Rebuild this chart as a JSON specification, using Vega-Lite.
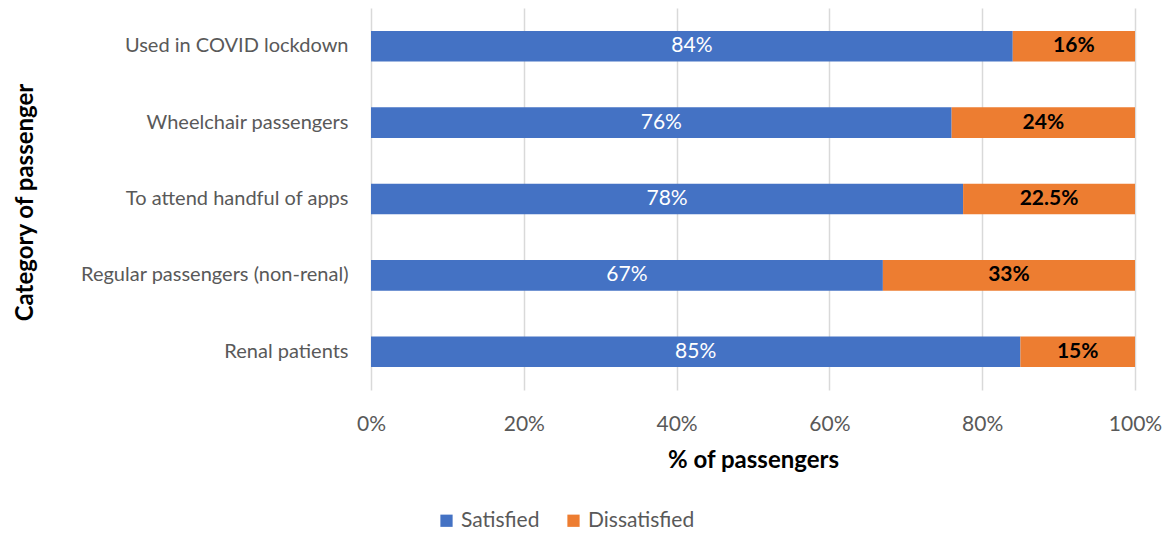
{
  "$schema": "https://vega.github.io/schema/vega-lite/v6.json",
  "width": 764,
  "height": 382,
  "autosize": "none",
  "padding": {"left": 371, "top": 8, "right": 38, "bottom": 144},
  "background": "white",
  "config": {
    "font": "Lato",
    "view": {"stroke": null}
  },
  "data": {
    "values": [
      {"category": "Used in COVID lockdown", "status": "Satisfied", "value": 0.84, "label": "84%"},
      {"category": "Used in COVID lockdown", "status": "Dissatisfied", "value": 0.16, "label": "16%"},
      {"category": "Wheelchair passengers", "status": "Satisfied", "value": 0.76, "label": "76%"},
      {"category": "Wheelchair passengers", "status": "Dissatisfied", "value": 0.24, "label": "24%"},
      {"category": "To attend handful of apps", "status": "Satisfied", "value": 0.775, "label": "78%"},
      {"category": "To attend handful of apps", "status": "Dissatisfied", "value": 0.225, "label": "22.5%"},
      {"category": "Regular passengers (non-renal)", "status": "Satisfied", "value": 0.67, "label": "67%"},
      {"category": "Regular passengers (non-renal)", "status": "Dissatisfied", "value": 0.33, "label": "33%"},
      {"category": "Renal patients", "status": "Satisfied", "value": 0.85, "label": "85%"},
      {"category": "Renal patients", "status": "Dissatisfied", "value": 0.15, "label": "15%"}
    ]
  },
  "transform": [
    {"stack": "value", "groupby": ["category"], "sort": [{"field": "status", "order": "descending"}], "as": ["v0", "v1"]}
  ],
  "encoding": {
    "y": {
      "field": "category",
      "type": "nominal",
      "sort": ["Used in COVID lockdown", "Wheelchair passengers", "To attend handful of apps", "Regular passengers (non-renal)", "Renal patients"],
      "scale": {"paddingInner": 0.6, "paddingOuter": 0.3},
      "axis": {
        "title": "Category of passenger",
        "titleFontSize": 24,
        "titleFontWeight": "bold",
        "titleColor": "#000000",
        "titleX": -346,
        "titleY": 194,
        "titleAngle": -90,
        "titleAlign": "center",
        "titleBaseline": "middle",
        "labelFontSize": 20,
        "labelLimit": 400,
        "labelColor": "#595959",
        "labelPadding": 23,
        "ticks": false,
        "domain": false,
        "grid": false
      }
    }
  },
  "layer": [
    {
      "mark": {"type": "bar"},
      "encoding": {
        "x": {
          "field": "v0",
          "type": "quantitative",
          "scale": {"domain": [0, 1], "nice": false},
          "axis": {
            "title": "% of passengers",
            "titleFontSize": 24,
            "titleFontWeight": "bold",
            "titleColor": "#000000",
            "titlePadding": 14,
            "format": ".0%",
            "values": [0, 0.2, 0.4, 0.6, 0.8, 1],
            "labelFontSize": 21,
            "labelColor": "#595959",
            "labelPadding": 23,
            "labelFlush": false,
            "ticks": false,
            "domain": false,
            "grid": true,
            "gridColor": "#d9d9d9",
            "gridWidth": 1.5
          }
        },
        "x2": {"field": "v1"},
        "color": {
          "field": "status",
          "type": "nominal",
          "scale": {"domain": ["Satisfied", "Dissatisfied"], "range": ["#4472C4", "#ED7D31"]},
          "legend": {
            "title": null,
            "orient": "none",
            "direction": "horizontal",
            "legendX": 65,
            "legendY": 502,
            "symbolType": "square",
            "symbolSize": 150,
            "symbolStrokeWidth": 0,
            "labelFontSize": 21,
            "labelColor": "#595959",
            "columnPadding": 23,
            "labelOffset": 4
          }
        }
      }
    },
    {
      "transform": [{"filter": "datum.status === 'Satisfied'"}],
      "mark": {
        "type": "text",
        "fontSize": 21,
        "baseline": "middle",
        "align": "center",
        "color": "#ffffff",
        "dx": {"expr": "(scale('x', datum.v1) - scale('x', datum.v0)) / 2"}
      },
      "encoding": {
        "x": {"field": "v0", "type": "quantitative"},
        "text": {"field": "label"}
      }
    },
    {
      "transform": [{"filter": "datum.status === 'Dissatisfied'"}],
      "mark": {
        "type": "text",
        "fontSize": 21,
        "fontWeight": "bold",
        "baseline": "middle",
        "align": "center",
        "color": "#000000",
        "dx": {"expr": "(scale('x', datum.v1) - scale('x', datum.v0)) / 2"}
      },
      "encoding": {
        "x": {"field": "v0", "type": "quantitative"},
        "text": {"field": "label"}
      }
    }
  ]
}
